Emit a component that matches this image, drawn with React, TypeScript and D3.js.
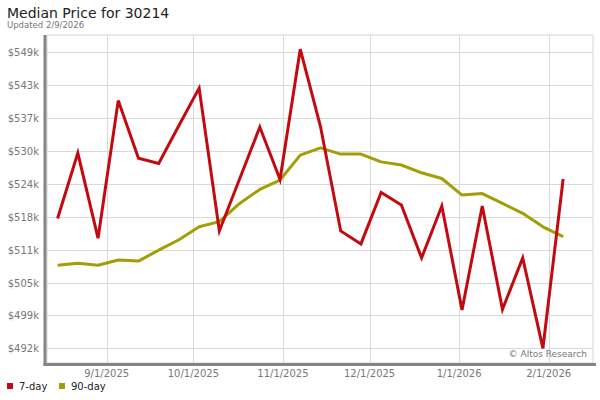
import React from "react";
import * as d3 from "d3";

const dates: string[] = [
  "2025-08-15", "2025-08-22", "2025-08-29", "2025-09-05", "2025-09-12", "2025-09-19",
  "2025-09-26", "2025-10-03", "2025-10-10", "2025-10-17", "2025-10-24", "2025-10-31",
  "2025-11-07", "2025-11-14", "2025-11-21", "2025-11-28", "2025-12-05", "2025-12-12",
  "2025-12-19", "2025-12-26", "2026-01-02", "2026-01-09", "2026-01-16", "2026-01-23",
  "2026-01-30", "2026-02-06",
];
const sevenDay: number[] = [
  517.3, 529.9, 513.5, 540.0, 528.9, 527.9, 535.2, 542.4, 514.9, 524.9, 534.9, 524.8,
  549.9, 535.0, 514.9, 512.4, 522.3, 519.9, 509.7, 519.7, 499.7, 519.7, 499.8, 509.7,
  492.3, 524.9,
];
const ninetyDay: number[] = [
  508.3, 508.7, 508.3, 509.3, 509.1, 511.2, 513.2, 515.7, 516.7, 520.2, 522.9, 524.7,
  529.5, 530.9, 529.7, 529.7, 528.2, 527.6, 526.1, 525.0, 521.8, 522.1, 520.2, 518.3,
  515.7, 513.8,
];
const yTicks: number[] = [492.3, 498.63, 504.97, 511.3, 517.63, 523.97, 530.3, 536.63, 542.97, 549.3];
const xTicks: string[] = ["2025-09-01", "2025-10-01", "2025-11-01", "2025-12-01", "2026-01-01", "2026-02-01"];
const xTickLabels: string[] = ["9/1/2025", "10/1/2025", "11/1/2025", "12/1/2025", "1/1/2026", "2/1/2026"];
const seriesNames: string[] = ["7-day", "90-day"];
const seriesColors: string[] = ["#c20a10", "#a29e06"];

const parse = (s: string) => {
  const [y, m, d] = s.split("-").map(Number);
  return new Date(y, m - 1, d);
};

export default function App() {
  const W = 600, H = 400;
  const left = 47, right = 593, top = 35, bottom = 363;
  const x = d3.scaleTime().domain([parse("2025-09-01"), parse("2026-02-01")]).range([106.7, 548.7]);
  const y = d3.scaleLinear().domain([492.3, 549.3]).range([348.3, 52.3]);
  const font = "'DejaVu Sans', Verdana, sans-serif";

  const mk = (vals: number[]) =>
    d3.line<number>().x((_, i) => x(parse(dates[i]))).y((v) => y(v))(vals) || "";

  return (
    <svg width={W} height={H} style={{ position: "absolute", left: 0, top: 0, background: "#fff" }} fontFamily={font}>
      <text x={7} y={18} fontSize={14} fill="#222">Median Price for 30214</text>
      <text x={7} y={28} fontSize={8.5} fill="#777">Updated 2/9/2026</text>

      <rect x={left} y={top} width={right - left} height={bottom - top} fill="#fff" stroke="#d6d6d6" strokeWidth={1} />
      {yTicks.map((t) => (
        <g key={t}>
          <line x1={left} x2={right} y1={Math.round(y(t)) + 0.5} y2={Math.round(y(t)) + 0.5} stroke="#d9d9d9" />
          <text x={39} y={y(t) + 4} fontSize={10} fill="#777" textAnchor="end">
            {"$" + Math.round(t) + "k"}
          </text>
        </g>
      ))}
      {xTicks.map((t, i) => (
        <g key={t}>
          <line x1={Math.round(x(parse(t))) + 0.5} x2={Math.round(x(parse(t))) + 0.5} y1={top} y2={bottom} stroke="#d9d9d9" />
          <text x={x(parse(t))} y={377} fontSize={10} fill="#777" textAnchor="middle">{xTickLabels[i]}</text>
        </g>
      ))}
      <rect x={43.5} y={top} width={3} height={366 - top} fill="#858585" />
      <rect x={43.5} y={363} width={596 - 43.5} height={3} fill="#858585" />

      <text x={587} y={357} fontSize={9} fill="#777" textAnchor="end">© Altos Research</text>

      <path d={mk(ninetyDay)} fill="none" stroke={seriesColors[1]} strokeWidth={3} strokeLinejoin="round" />
      <path d={mk(sevenDay)} fill="none" stroke={seriesColors[0]} strokeWidth={3} strokeLinejoin="miter" />

      {seriesNames.map((n, i) => (
        <g key={n} transform={`translate(${[7, 59][i]},0)`}>
          <rect x={0} y={383} width={6} height={6} fill={seriesColors[i]} />
          <text x={12} y={390} fontSize={10} fill="#222">{n}</text>
        </g>
      ))}
    </svg>
  );
}
